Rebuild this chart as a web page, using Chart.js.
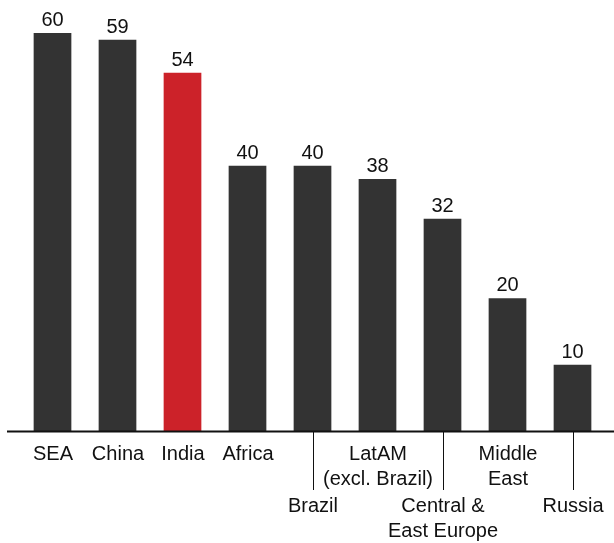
<!DOCTYPE html>
<html>
<head>
<meta charset="utf-8">
<script src="https://cdn.jsdelivr.net/npm/chart.js@4/dist/chart.umd.min.js"></script>
<style>
  html, body { margin: 0; padding: 0; background: #fff; }
  #wrap { width: 614px; height: 543px; position: relative; }
</style>
</head>
<body>
<div id="wrap"><canvas id="c"></canvas></div>
<script>
// Regions, each label split into its display lines
const categories = [
  ['SEA'], ['China'], ['India'], ['Africa'], ['Brazil'],
  ['LatAM', '(excl. Brazil)'], ['Central &', 'East Europe'],
  ['Middle', 'East'], ['Russia']
];
const values = [60, 59, 54, 40, 40, 38, 32, 20, 10];
// Labels that hang lower, on a leader line, so neighbours don't collide
const lowered = [false, false, false, false, true, false, true, false, true];
const highlight = 'India';

const DARK = '#333333';
const RED = '#cc2229';
const FONT = '"Liberation Sans", Arial, Helvetica, sans-serif';

const barColors = categories.map(c => c[0] === highlight ? RED : DARK);

const labelsPlugin = {
  id: 'regionLabels',
  afterDatasetsDraw(chart) {
    const { ctx, chartArea, scales } = chart;
    const x = scales.x, y = scales.y;
    const base = y.getPixelForValue(0);
    const meta = chart.getDatasetMeta(0);
    ctx.save();

    // value labels above each bar
    ctx.fillStyle = '#111';
    ctx.font = '20px ' + FONT;
    ctx.textAlign = 'center';
    ctx.textBaseline = 'alphabetic';
    meta.data.forEach((bar, i) => {
      ctx.fillText(String(values[i]), bar.x, bar.y - 7);
    });

    // baseline
    ctx.strokeStyle = '#111';
    ctx.lineWidth = 2;
    ctx.beginPath();
    ctx.moveTo(7, base + 0.5);
    ctx.lineTo(chart.width, base + 0.5);
    ctx.stroke();

    // category labels, with leader lines for the lowered ones
    const lineH = 25;
    categories.forEach((lines, i) => {
      const cx = Math.round(x.getPixelForValue(i));
      let firstBaseline = base + 29;
      if (lowered[i]) {
        ctx.strokeStyle = '#111';
        ctx.lineWidth = 1;
        ctx.beginPath();
        ctx.moveTo(cx + 0.5, base + 1);
        ctx.lineTo(cx + 0.5, base + 59);
        ctx.stroke();
        firstBaseline = base + 81;
      }
      ctx.fillStyle = '#111';
      lines.forEach((t, k) => {
        ctx.fillText(t, cx, firstBaseline + k * lineH);
      });
    });
    ctx.restore();
  }
};

new Chart(document.getElementById('c'), {
  type: 'bar',
  data: {
    labels: categories.map(c => c.join(' ')),
    datasets: [{
      data: values,
      backgroundColor: barColors,
      borderWidth: 0,
      barPercentage: 0.58,
      categoryPercentage: 1.0
    }]
  },
  options: {
    responsive: true,
    maintainAspectRatio: false,
    animation: false,
    layout: { padding: { left: 20, right: 9, top: 33, bottom: 112 } },
    plugins: { legend: { display: false }, tooltip: { enabled: false } },
    scales: {
      x: { display: false, offset: true },
      y: { display: false, min: 0, max: 60 }
    }
  },
  plugins: [labelsPlugin]
});
</script>
</body>
</html>
